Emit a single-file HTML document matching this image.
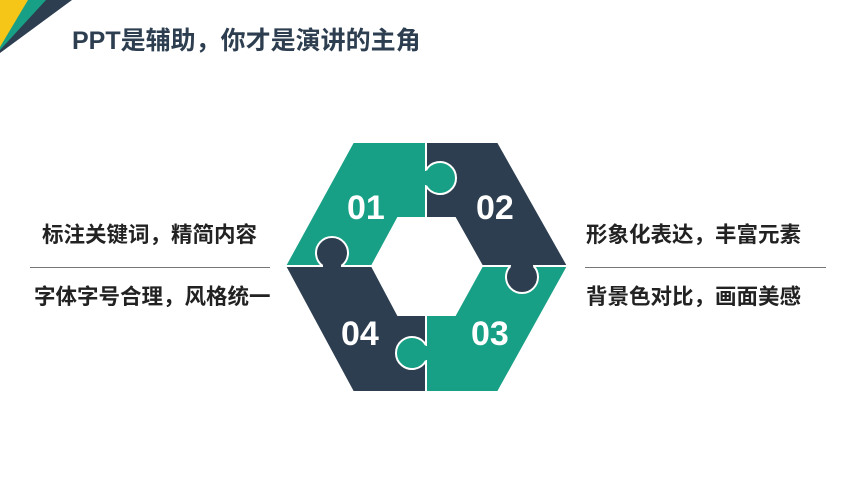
<!DOCTYPE html>
<html><head><meta charset="utf-8"><style>
body{margin:0;width:868px;height:488px;background:#fff;overflow:hidden;position:relative;font-family:"Liberation Sans","Noto Sans CJK SC",sans-serif}
.t{position:absolute;font-weight:bold;color:#222;font-size:21.5px;white-space:nowrap;line-height:1}
.l{position:absolute;height:1px;background:#777;top:267px}
</style></head><body>
<svg width="868" height="488" style="position:absolute;left:0;top:0">
<polygon points="0,0 72,0 0,53" fill="#2d3e50"/>
<polygon points="0,0 46,0 0,50" fill="#17a085"/>
<polygon points="0,0 28,0 0,47" fill="#f5c518"/>
<g stroke="#fff" stroke-width="2">
<polygon points="285,266 353,142 426,142 426,218 398,218 372,266" fill="#17a085"/>
<polygon points="426,142 498,142 568,266 482,266 455,218 426,218" fill="#2d3e50"/>
<polygon points="482,266 568,266 498,392 426,392 426,315 455,315" fill="#17a085"/>
<polygon points="285,266 372,266 398,315 426,315 426,392 353,392" fill="#2d3e50"/>
<path d="M426,170.3 A16,16 0 1 1 426,185.7" fill="#17a085"/>
<path d="M510.4,266 A16,16 0 1 0 533.6,266" fill="#2d3e50"/>
<path d="M426,345.3 A16,16 0 1 0 426,360.7" fill="#17a085"/>
<path d="M322.7,266 A16,16 0 1 1 341.3,266" fill="#2d3e50"/>
</g>
<g stroke="none">
<rect x="423" y="171" width="5" height="14" fill="#17a085"/>
<rect x="511" y="263" width="22" height="5" fill="#2d3e50"/>
<rect x="424" y="346" width="5" height="14" fill="#17a085"/>
<rect x="323" y="264" width="18" height="5" fill="#2d3e50"/>
</g>
<g fill="#fff" font-family="Liberation Sans,sans-serif" font-weight="bold" font-size="34">
<text x="347" y="219">01</text><text x="476" y="219">02</text>
<text x="471" y="345">03</text><text x="341" y="345">04</text>
</g>
</svg>
<div class="t" style="left:72px;top:29px;font-size:25px;color:#2d3e50">PPT是辅助，你才是演讲的主角</div>
<div class="t" style="left:42px;top:225px">标注关键词，精简内容</div>
<div class="t" style="left:34px;top:287px">字体字号合理，风格统一</div>
<div class="t" style="left:586px;top:225px">形象化表达，丰富元素</div>
<div class="t" style="left:586px;top:287px">背景色对比，画面美感</div>
<div class="l" style="left:30px;width:240px"></div>
<div class="l" style="left:585px;width:241px"></div>
</body></html>
